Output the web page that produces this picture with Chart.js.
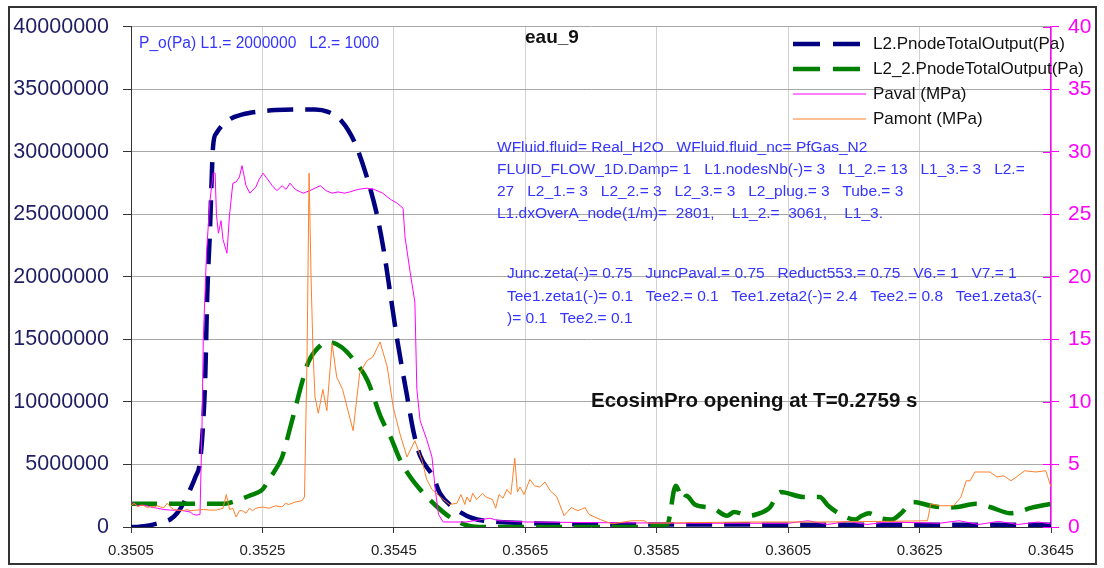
<!DOCTYPE html>
<html>
<head>
<meta charset="utf-8">
<script src="https://cdn.jsdelivr.net/npm/chart.js@4.4.1/dist/chart.umd.min.js"></script>
<style>
  body { margin: 0; background: #fff; }
  #wrap { position: relative; width: 1104px; height: 568px; font-family: "Liberation Sans", Arial, sans-serif; }
  #frame { position: absolute; left: 8px; top: 6px; width: 1085px; height: 555px; border: 2px solid #333; pointer-events: none; }
  .t { position: absolute; white-space: pre; line-height: 20px; }
  .blue { color: #3535ff; font-size: 15.5px; }
  .leg { position: absolute; left: 790px; top: 31px; }
  .leg div { height: 25px; display: flex; align-items: center; font-size: 17px; color: #111; white-space: pre; }
  .leg svg { margin-right: 6px; }
</style>
</head>
<body>
<div id="wrap">
  <canvas id="chart" width="1104" height="568"></canvas>
  <div id="frame"></div>
  <div class="t blue" style="left:139px; top:33px; font-size:15.6px;">P_o(Pa) L1.= 2000000   L2.= 1000</div>
  <div class="t" style="left:525px; top:27px; font-size:19px; font-weight:bold; color:#111;">eau_9</div>
  <div class="t blue" style="left:497px; top:136px; line-height:22px;">WFluid.fluid= Real_H2O   WFluid.fluid_nc= PfGas_N2
FLUID_FLOW_1D.Damp= 1   L1.nodesNb(-)= 3   L1_2.= 13   L1_3.= 3   L2.=
27   L2_1.= 3   L2_2.= 3   L2_3.= 3   L2_plug.= 3   Tube.= 3
L1.dxOverA_node(1/m)=  2801,    L1_2.=  3061,    L1_3.</div>
  <div class="t blue" style="left:507px; top:262px; line-height:22.5px;">Junc.zeta(-)= 0.75   JuncPaval.= 0.75   Reduct553.= 0.75   V6.= 1   V7.= 1
Tee1.zeta1(-)= 0.1   Tee2.= 0.1   Tee1.zeta2(-)= 2.4   Tee2.= 0.8   Tee1.zeta3(-
)= 0.1   Tee2.= 0.1</div>
  <div class="t" style="left:591px; top:390px; font-size:20.5px; font-weight:bold; color:#111;">EcosimPro opening at T=0.2759 s</div>
  <div class="leg" id="legend"></div>
</div>
<script>
// x axis (time, s) and tick labels
const xTicks = [0.3505, 0.3525, 0.3545, 0.3565, 0.3585, 0.3605, 0.3625, 0.3645];
const leftTicks = [0, 5000000, 10000000, 15000000, 20000000, 25000000, 30000000, 35000000, 40000000];
const rightTicks = [0, 5, 10, 15, 20, 25, 30, 35, 40];

// L2.PnodeTotalOutput (Pa)
const l2Time = [0.3505, 0.3506, 0.3507, 0.3508, 0.3509, 0.3510, 0.3511, 0.3512, 0.3513, 0.3514, 0.35148, 0.35155, 0.3516, 0.35163, 0.35166, 0.3517, 0.35175, 0.3518, 0.3520, 0.3522, 0.3524, 0.3527, 0.3530, 0.3533, 0.3535, 0.3537, 0.3539, 0.3541, 0.35425, 0.35435, 0.35445, 0.35455, 0.3547, 0.3548, 0.3549, 0.3551, 0.3552, 0.35545, 0.3557, 0.3561, 0.3566, 0.3575, 0.3590, 0.3610, 0.3630, 0.3645];
const l2Pa = [0, 10000, 60000, 150000, 280000, 420000, 620000, 1100000, 1900000, 3000000, 4000000, 5200000, 8500000, 12000000, 18500000, 23500000, 30500000, 31500000, 32600000, 33000000, 33200000, 33350000, 33400000, 33400000, 33200000, 32500000, 30800000, 27800000, 24800000, 22000000, 18500000, 15000000, 10500000, 7600000, 5700000, 4000000, 2700000, 1400000, 700000, 400000, 300000, 200000, 200000, 180000, 180000, 180000];

// L2_2.PnodeTotalOutput (Pa)
const l22Time = [0.3505, 0.3512, 0.3519, 0.3521, 0.3523, 0.3525, 0.3526, 0.3527, 0.3528, 0.3529, 0.3530, 0.3531, 0.3532, 0.3534, 0.3535, 0.3537, 0.3539, 0.3541, 0.3543, 0.35445, 0.3546, 0.35475, 0.3549, 0.3551, 0.35535, 0.3556, 0.3558, 0.3570, 0.3580, 0.35866, 0.35879, 0.3589, 0.35895, 0.35908, 0.35936, 0.35957, 0.35968, 0.3599, 0.36001, 0.36022, 0.36038, 0.36074, 0.36098, 0.36111, 0.3613, 0.36152, 0.36162, 0.36173, 0.3619, 0.36208, 0.36222, 0.3624, 0.36267, 0.36292, 0.36308, 0.36336, 0.36357, 0.36389, 0.36421, 0.3645];
const l22Pa = [1850000, 1850000, 1850000, 2100000, 2500000, 3000000, 3800000, 4600000, 5600000, 7500000, 9500000, 11500000, 13200000, 14600000, 14800000, 14400000, 13300000, 11700000, 8800000, 7200000, 5300000, 4000000, 3000000, 1900000, 800000, 150000, 0, 0, 0, 200000, 3300000, 2200000, 2500000, 1800000, 1500000, 900000, 1200000, 900000, 1000000, 1550000, 2800000, 2400000, 2400000, 1700000, 1000000, 600000, 900000, 1100000, 700000, 600000, 1100000, 2000000, 1700000, 1550000, 1600000, 1850000, 1600000, 1100000, 1550000, 1850000];

// Paval (MPa)
const pavalTime = [0.3505, 0.3506, 0.3507, 0.3508, 0.3509, 0.3510, 0.3511, 0.3512, 0.3513, 0.3514, 0.35145, 0.3515, 0.35155, 0.35158, 0.3516, 0.35165, 0.3517, 0.35175, 0.35178, 0.3518, 0.35183, 0.35187, 0.3519, 0.35196, 0.3520, 0.35205, 0.3521, 0.35215, 0.35219, 0.35225, 0.35231, 0.3524, 0.35245, 0.35251, 0.35258, 0.35265, 0.35272, 0.3528, 0.35286, 0.35292, 0.3530, 0.35312, 0.35322, 0.3533, 0.35338, 0.35347, 0.35356, 0.35365, 0.35375, 0.35383, 0.35395, 0.35409, 0.3542, 0.35433, 0.35445, 0.35455, 0.35464, 0.35467, 0.35475, 0.35482, 0.35485, 0.3549, 0.3550, 0.35508, 0.35513, 0.35518, 0.35525, 0.3556, 0.35596, 0.3561, 0.3565, 0.3575, 0.3590, 0.3605, 0.3608, 0.3611, 0.3614, 0.3617, 0.3620, 0.3628, 0.3631, 0.3634, 0.3637, 0.3640, 0.3643, 0.3645];
const pavalMPa = [2.0, 1.7, 1.75, 1.6, 1.5, 1.4, 1.35, 1.35, 1.3, 1.2, 1.0, 0.95, 1.0, 8, 15, 22, 26, 28.3, 28.3, 25, 23.5, 24.5, 23, 21.9, 25, 27.5, 27.6, 28, 28.9, 27.3, 26.7, 27.2, 27.8, 28.3, 27.8, 27.3, 26.9, 27.3, 27.0, 27.5, 27.0, 26.7, 26.9, 27.1, 27.3, 26.9, 26.7, 26.8, 26.7, 26.8, 27.0, 27.1, 27.0, 26.7, 26.2, 25.9, 25.5, 23.2, 20.3, 18.0, 11, 8.5, 7, 5.6, 3, 1.0, 0.4, 0.4, 0.7, 0.5, 0.4, 0.35, 0.3, 0.3, 0.5, 0.2, 0.45, 0.2, 0.4, 0.3, 0.5, 0.2, 0.45, 0.2, 0.4, 0.25];

// Pamont (MPa)
const pamontTime = [0.3505, 0.35055, 0.3506, 0.35065, 0.3507, 0.35075, 0.3508, 0.35085, 0.3509, 0.35095, 0.3510, 0.35105, 0.3511, 0.35115, 0.3512, 0.35125, 0.3513, 0.35135, 0.3514, 0.3515, 0.3516, 0.3517, 0.3518, 0.3519, 0.35195, 0.3520, 0.35205, 0.3521, 0.35215, 0.3522, 0.35225, 0.3523, 0.35235, 0.3524, 0.3525, 0.3526, 0.3527, 0.3528, 0.35285, 0.3529, 0.3530, 0.3531, 0.35314, 0.35318, 0.35321, 0.35324, 0.35327, 0.3533, 0.35335, 0.35342, 0.35348, 0.35356, 0.35363, 0.35372, 0.35388, 0.35398, 0.35409, 0.35418, 0.35429, 0.3544, 0.35449, 0.35459, 0.3547, 0.35482, 0.35493, 0.3550, 0.35508, 0.35525, 0.35535, 0.35546, 0.35552, 0.35558, 0.35561, 0.35566, 0.3557, 0.35576, 0.35585, 0.3559, 0.3560, 0.35605, 0.3561, 0.35616, 0.35622, 0.35628, 0.35634, 0.35638, 0.35642, 0.35648, 0.35657, 0.35664, 0.35672, 0.3568, 0.35688, 0.35698, 0.35709, 0.3572, 0.3573, 0.35741, 0.35747, 0.35764, 0.35782, 0.35812, 0.35831, 0.35837, 0.3590, 0.3600, 0.3610, 0.3620, 0.36262, 0.36267, 0.36281, 0.36302, 0.36313, 0.36321, 0.36327, 0.36334, 0.36357, 0.36368, 0.36378, 0.36389, 0.3640, 0.3641, 0.36427, 0.36442, 0.3645];
const pamontMPa = [1.7, 1.9, 1.6, 1.75, 1.7, 1.55, 1.65, 1.6, 1.7, 1.6, 1.55, 1.9, 1.6, 1.4, 1.35, 1.35, 1.3, 1.4, 1.3, 1.35, 1.4, 1.35, 1.35, 1.5, 2.6, 1.4, 1.5, 0.8, 1.3, 1.3, 1.1, 1.5, 1.3, 1.5, 1.6, 1.5, 1.7, 1.6, 1.9, 1.8, 2.0, 2.1, 2.4, 14, 28.3, 20, 14, 10.4, 9.1, 11, 9.3, 14.7, 12, 11, 7.7, 12.3, 13.3, 13.6, 14.8, 12.8, 9.6, 7.5, 5.6, 6.9, 5.3, 3.8, 3.0, 2.2, 1.8, 1.9, 2.6, 1.8, 2.4, 2.0, 2.7, 2.2, 2.7, 2.4, 2.2, 1.5, 2.6, 2.3, 3.0, 2.6, 5.5, 2.8, 3.2, 2.6, 3.8, 3.3, 3.2, 3.6, 2.9, 2.4, 0.9, 1.55, 1.3, 1.55, 1.0, 0.6, 0.25, 0.5, 0.5, 0.3, 0.35, 0.4, 0.4, 0.45, 0.5, 1.85, 1.7, 1.7, 2.4, 3.7, 3.7, 4.4, 4.4, 4.0, 4.1, 3.7, 4.1, 4.5, 4.4, 4.5, 3.2];

const labels = ['L2.PnodeTotalOutput(Pa)', 'L2_2.PnodeTotalOutput(Pa)', 'Paval (MPa)', 'Pamont (MPa)'];
const colors = ['#000080', '#008000', '#ff00ff', '#ff7f2a'];

function pts(t, v) {
  return t.map((x, i) => ({ x: x, y: v[i] }));
}

const font = "'Liberation Sans', Arial, sans-serif";

// right axis tick marks cross the axis line, like the original
const crossTicks = {
  id: 'crossTicks',
  afterDraw(c) {
    const s = c.scales.y2;
    const ctx = c.ctx;
    ctx.save();
    ctx.strokeStyle = '#ff00ff';
    ctx.lineWidth = 1;
    s.ticks.forEach((t) => {
      const y = Math.round(s.getPixelForValue(t.value)) + 0.5;
      ctx.beginPath();
      ctx.moveTo(s.left - 8, y);
      ctx.lineTo(s.left, y);
      ctx.stroke();
    });
    ctx.restore();
  }
};

const config = {
  type: 'line',
  data: {
    datasets: [
      {
        label: labels[0], data: pts(l2Time, l2Pa), yAxisID: 'y',
        borderColor: colors[0], borderWidth: 4.5, borderDash: [26, 12],
        cubicInterpolationMode: 'monotone', order: 4
      },
      {
        label: labels[1], data: pts(l22Time, l22Pa), yAxisID: 'y',
        borderColor: colors[1], borderWidth: 4.5, borderDash: [26, 12],
        cubicInterpolationMode: 'monotone', order: 3
      },
      {
        label: labels[2], data: pts(pavalTime, pavalMPa), yAxisID: 'y2',
        borderColor: colors[2], borderWidth: 1, order: 2
      },
      {
        label: labels[3], data: pts(pamontTime, pamontMPa), yAxisID: 'y2',
        borderColor: colors[3], borderWidth: 1, order: 1
      }
    ]
  },
  options: {
    responsive: false,
    animation: false,
    devicePixelRatio: 1,
    layout: { padding: { top: 26, left: 0, right: 0, bottom: 0 } },
    elements: { point: { radius: 0 }, line: { fill: false } },
    plugins: { legend: { display: false }, tooltip: { enabled: false } },
    scales: {
      x: {
        type: 'linear', min: 0.3505, max: 0.3645,
        afterBuildTicks: (s) => { s.ticks = xTicks.map(v => ({ value: v })); },
        afterFit: (s) => { s.height = 41; },
        ticks: { callback: (v) => v.toFixed(4), color: '#222', font: { family: font, size: 15 }, padding: 9, maxRotation: 0, autoSkip: false },
        grid: { color: '#d2d2d2', tickColor: '#333', tickLength: 6 },
        border: { color: '#333', width: 1 }
      },
      y: {
        position: 'left', min: 0, max: 40000000,
        afterBuildTicks: (s) => { s.ticks = leftTicks.map(v => ({ value: v })); },
        afterFit: (s) => { s.width = 131; },
        ticks: { callback: (v) => String(v), color: '#1e1e64', font: { family: font, size: 21.5 }, padding: 14 },
        grid: { color: '#a8a8a8', tickColor: '#333', tickLength: 8 },
        border: { color: '#333', width: 1 }
      },
      y2: {
        position: 'right', min: 0, max: 40,
        afterBuildTicks: (s) => { s.ticks = rightTicks.map(v => ({ value: v })); },
        afterFit: (s) => { s.width = 53; },
        ticks: { color: '#ff00ff', font: { family: font, size: 21 }, padding: 9 },
        grid: { drawOnChartArea: false, color: '#ff00ff', tickLength: 8 },
        border: { color: '#ff00ff', width: 1.5 }
      }
    }
  },
  plugins: [crossTicks]
};

const chart = new Chart(document.getElementById('chart'), config);

// legend, built from the dataset styles
const legend = document.getElementById('legend');
chart.data.datasets.forEach((ds) => {
  const row = document.createElement('div');
  const dash = ds.borderDash ? 'stroke-dasharray="27 13"' : '';
  row.innerHTML = '<svg width="77" height="10"><line x1="3" y1="5" x2="' + (ds.borderDash ? 70 : 76) + '" y2="5" stroke="' + ds.borderColor + '" stroke-width="' + (ds.borderDash ? 4.5 : 1.2) + '" ' + dash + '/></svg>' + ds.label;
  legend.appendChild(row);
});
</script>
</body>
</html>
